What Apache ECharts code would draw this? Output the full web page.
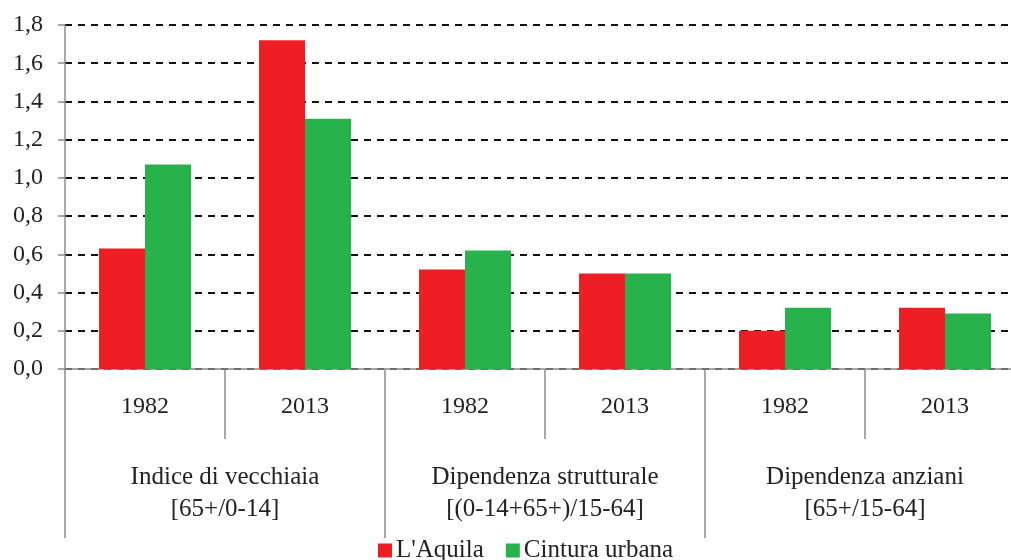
<!DOCTYPE html>
<html><head><meta charset="utf-8">
<script src="https://cdn.jsdelivr.net/npm/echarts@6/dist/echarts.min.js"></script>
<style>html,body{margin:0;padding:0;background:#fff}#c{width:1011px;height:560px}</style>
</head><body><div id="c"></div>
<script>
const years = ['1982','2013','1982','2013','1982','2013'];
const groups = ['Indice di vecchiaia\n[65+/0-14]', 'Dipendenza strutturale\n[(0-14+65+)/15-64]', 'Dipendenza anziani\n[65+/15-64]'];
const seriesNames = ["L'Aquila", 'Cintura urbana'];
const laquila = [0.63, 1.72, 0.52, 0.50, 0.20, 0.32];
const cintura = [1.07, 1.31, 0.62, 0.50, 0.32, 0.29];

const FONT = '"Liberation Serif", "DejaVu Serif", serif';
const axisGray = '#8c8c8c';
const chart = echarts.init(document.getElementById('c'), null, {renderer: 'canvas'});
chart.setOption({
  animation: false,
  textStyle: {fontFamily: FONT},
  grid: {left: 65, top: 25, right: -14, height: 344, containLabel: false, outerBoundsMode: 'none'},
  legend: {
    data: seriesNames, left: 373, top: 533, icon: 'rect', itemWidth: 14, itemHeight: 14, itemGap: 22,
    textStyle: {fontFamily: FONT, fontSize: 25, color: '#222', padding: [0,0,0,-1]}
  },
  xAxis: [
    {type: 'category', data: years, position: 'bottom',
     axisLine: {show: true, lineStyle: {color: axisGray, width: 1.5}},
     axisTick: {show: true, interval: 0, length: 70, lineStyle: {color: axisGray, width: 1.5}},
     axisLabel: {interval: 0, margin: 26, fontFamily: FONT, fontSize: 24, color: '#222'}},
    {type: 'category', data: groups, position: 'bottom', gridIndex: 0,
     axisLine: {show: false},
     axisTick: {show: true, interval: 0, length: 169, lineStyle: {color: axisGray, width: 1.5}},
     axisLabel: {interval: 0, margin: 92, fontFamily: FONT, fontSize: 25, lineHeight: 32, color: '#222', align: 'center'}}
  ],
  yAxis: {type: 'value', min: 0, max: 1.8, interval: 0.2,
    axisLine: {show: true, lineStyle: {color: axisGray, width: 1.5}},
    axisTick: {show: true, length: 7, lineStyle: {color: axisGray, width: 1.5}},
    axisLabel: {margin: 22, fontFamily: FONT, fontSize: 24, color: '#222',
      formatter: v => v.toFixed(1).replace('.', ',')},
    splitLine: {show: true, lineStyle: {color: '#111', width: 1.8, type: [7, 6]}}
  },
  series: [
    {name: seriesNames[0], type: 'bar', data: laquila, itemStyle: {color: '#ED1F25'}, barGap: '0%', barCategoryGap: '42.5%'},
    {name: seriesNames[1], type: 'bar', data: cintura, itemStyle: {color: '#28B24B'}, barGap: '0%', barCategoryGap: '42.5%'}
  ]
});
</script></body></html>
